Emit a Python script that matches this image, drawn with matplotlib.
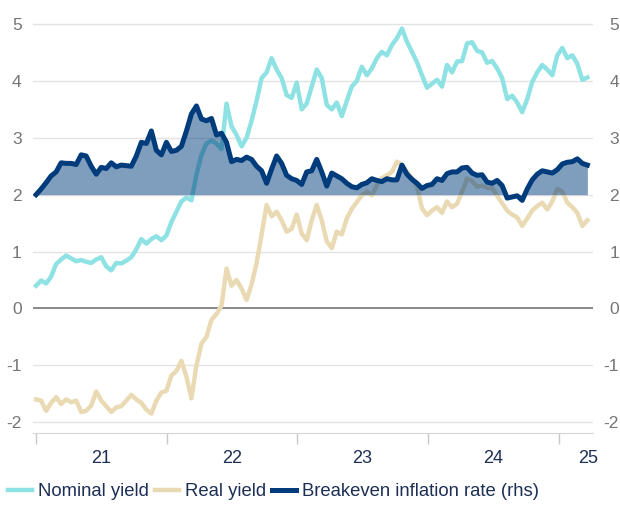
import numpy as np
import pandas as pd
import matplotlib
matplotlib.use('Agg')
import matplotlib.pyplot as plt

# Fonts: Arial-like, plain hyphen for negatives
plt.rcParams['font.family'] = ['Liberation Sans', 'DejaVu Sans']
plt.rcParams['axes.unicode_minus'] = False

# Data: fortnightly observations, Jan 2021 - Mar 2025 (%)
dates = pd.date_range('2021-01-01', periods=111, freq='14D')

nominal = [
    0.40, 0.49, 0.44, 0.56, 0.78, 0.86, 0.93, 0.88, 0.83, 0.85,
    0.82, 0.80, 0.86, 0.90, 0.74, 0.67, 0.80, 0.79, 0.84, 0.90,
    1.04, 1.22, 1.14, 1.22, 1.27, 1.20, 1.28, 1.52, 1.70, 1.88,
    1.95, 1.90, 2.35, 2.70, 2.90, 2.95, 2.90, 2.80, 3.60, 3.20,
    3.05, 2.85, 3.00, 3.30, 3.65, 4.05, 4.15, 4.40, 4.20, 4.05,
    3.75, 3.70, 3.97, 3.50, 3.60, 3.90, 4.20, 4.05, 3.58, 3.50,
    3.62, 3.38, 3.65, 3.90, 4.00, 4.25, 4.10, 4.22, 4.40, 4.51,
    4.45, 4.63, 4.75, 4.92, 4.69, 4.51, 4.33, 4.10, 3.88, 3.95,
    4.02, 3.90, 4.28, 4.15, 4.34, 4.35, 4.66, 4.68, 4.53, 4.50,
    4.32, 4.35, 4.22, 4.05, 3.68, 3.74, 3.62, 3.45, 3.68, 3.98,
    4.15, 4.28, 4.20, 4.10, 4.45, 4.58, 4.40, 4.45, 4.30, 4.02,
    4.06,
]

real = [
    -1.60, -1.62, -1.80, -1.66, -1.56, -1.68, -1.60, -1.65, -1.62, -1.82,
    -1.80, -1.71, -1.46, -1.62, -1.72, -1.82, -1.74, -1.72, -1.62, -1.52,
    -1.60, -1.66, -1.78, -1.85, -1.62, -1.48, -1.45, -1.18, -1.10, -0.92,
    -1.20, -1.58, -1.00, -0.62, -0.50, -0.20, -0.10, 0.05, 0.70, 0.40,
    0.50, 0.35, 0.15, 0.42, 0.80, 1.30, 1.82, 1.62, 1.70, 1.55,
    1.35, 1.40, 1.65, 1.32, 1.20, 1.55, 1.82, 1.55, 1.18, 1.06,
    1.35, 1.30, 1.58, 1.75, 1.87, 1.99, 2.05, 1.99, 2.17, 2.29,
    2.34, 2.40, 2.58, 2.52, 2.40, 2.29, 2.15, 1.76, 1.64, 1.72,
    1.78, 1.68, 1.88, 1.78, 1.84, 2.05, 2.28, 2.24, 2.14, 2.16,
    2.12, 2.12, 1.98, 1.85, 1.72, 1.65, 1.60, 1.45, 1.58, 1.72,
    1.80, 1.86, 1.74, 1.88, 2.10, 2.05, 1.86, 1.78, 1.68, 1.45,
    1.55,
]

breakeven = [
    2.00, 2.10, 2.21, 2.33, 2.40, 2.56, 2.55, 2.55, 2.53, 2.70,
    2.68, 2.50, 2.36, 2.48, 2.46, 2.56, 2.49, 2.52, 2.51, 2.50,
    2.68, 2.92, 2.90, 3.12, 2.78, 2.70, 2.92, 2.76, 2.78, 2.85,
    3.12, 3.42, 3.56, 3.33, 3.30, 3.34, 3.05, 3.08, 2.92, 2.58,
    2.62, 2.60, 2.66, 2.62, 2.50, 2.42, 2.20, 2.45, 2.68, 2.55,
    2.34, 2.28, 2.25, 2.18, 2.40, 2.42, 2.62, 2.40, 2.15, 2.38,
    2.33, 2.28, 2.20, 2.14, 2.12, 2.18, 2.21, 2.28, 2.25, 2.23,
    2.28, 2.26, 2.26, 2.52, 2.36, 2.27, 2.20, 2.11, 2.16, 2.18,
    2.28, 2.25, 2.37, 2.40, 2.40, 2.47, 2.48, 2.38, 2.34, 2.35,
    2.22, 2.20, 2.25, 2.16, 1.94, 1.96, 1.98, 1.90, 2.10, 2.26,
    2.36, 2.42, 2.40, 2.38, 2.44, 2.54, 2.57, 2.58, 2.63, 2.55,
    2.52,
]

year_starts = pd.to_datetime(['2021-01-01', '2022-01-01', '2023-01-01',
                              '2024-01-01', '2025-01-01'])
year_label_pos = pd.to_datetime(['2021-07-02', '2022-07-02', '2023-07-02',
                                 '2024-07-02', '2025-03-22'])
year_labels = ['21', '22', '23', '24', '25']
y_ticks = [-2, -1, 0, 1, 2, 3, 4, 5]

# Colours
NOMINAL_C = '#8ee2e3'
REAL_C = '#e9dab3'
BE_C = '#003c7b'
TEXT_C = '#1d2f55'
GRAY_C = '#757575'

fig = plt.figure(figsize=(6.2, 5.05), dpi=100)
ax = fig.add_axes([0.053, 0.1426, 0.903, 0.8267])

ax.plot(dates, nominal, color=NOMINAL_C, lw=3.2, label='Nominal yield', solid_joinstyle='round')
ax.plot(dates, real, color=REAL_C, lw=3.2, label='Real yield', solid_joinstyle='round')

ylim = (-2.19, 5.15)
xlim = (pd.Timestamp('2020-12-23'), pd.Timestamp('2025-04-05'))
ax.set_ylim(*ylim)
ax.set_xlim(*xlim)
ax.set_yticks(y_ticks)
ax.yaxis.grid(True, color='#e3e3e3', lw=1)
ax.set_axisbelow(True)
ax.axhline(0, color='#8a8a8a', lw=1.4, zorder=1)

for s in ['top', 'left', 'right']:
    ax.spines[s].set_visible(False)
ax.spines['bottom'].set_color('#d6d6d6')

ax.tick_params(axis='y', length=0, pad=8, labelcolor=GRAY_C, labelsize=12.5)

# x axis: tick marks at year starts, labels mid-year
ax.set_xticks(year_starts)
ax.set_xticklabels([])
ax.tick_params(axis='x', which='major', length=8, color='#c8c8c8', width=1)
ax.set_xticks(year_label_pos, minor=True)
ax.set_xticklabels(year_labels, minor=True)
ax.tick_params(axis='x', which='minor', length=0, pad=12, labelcolor=TEXT_C, labelsize=13)

# right hand side: breakeven
ax2 = ax.twinx()
ax2.set_ylim(*ylim)
ax2.set_xlim(*xlim)
ax2.set_yticks(y_ticks)
for s in ['top', 'left', 'right', 'bottom']:
    ax2.spines[s].set_visible(False)
ax2.fill_between(dates, 2, breakeven, color=BE_C, alpha=0.5, lw=0)
ax2.plot(dates, breakeven, color=BE_C, lw=3.6, label='Breakeven inflation rate (rhs)', solid_joinstyle='round')
ax2.tick_params(axis='y', length=0, pad=19, labelcolor=GRAY_C, labelsize=12.5)
for lab in ax2.get_yticklabels():
    lab.set_horizontalalignment('right')

h1, l1 = ax.get_legend_handles_labels()
h2, l2 = ax2.get_legend_handles_labels()
leg = fig.legend(h1 + h2, l1 + l2, loc='center left', bbox_to_anchor=(0.013, 0.026),
                 ncol=3, frameon=False, handlelength=1.3, handletextpad=0.3,
                 columnspacing=0.35, borderpad=0, borderaxespad=0, fontsize=13.3)
for t in leg.get_texts():
    t.set_color(TEXT_C)

fig.savefig('out.png', dpi=100)
